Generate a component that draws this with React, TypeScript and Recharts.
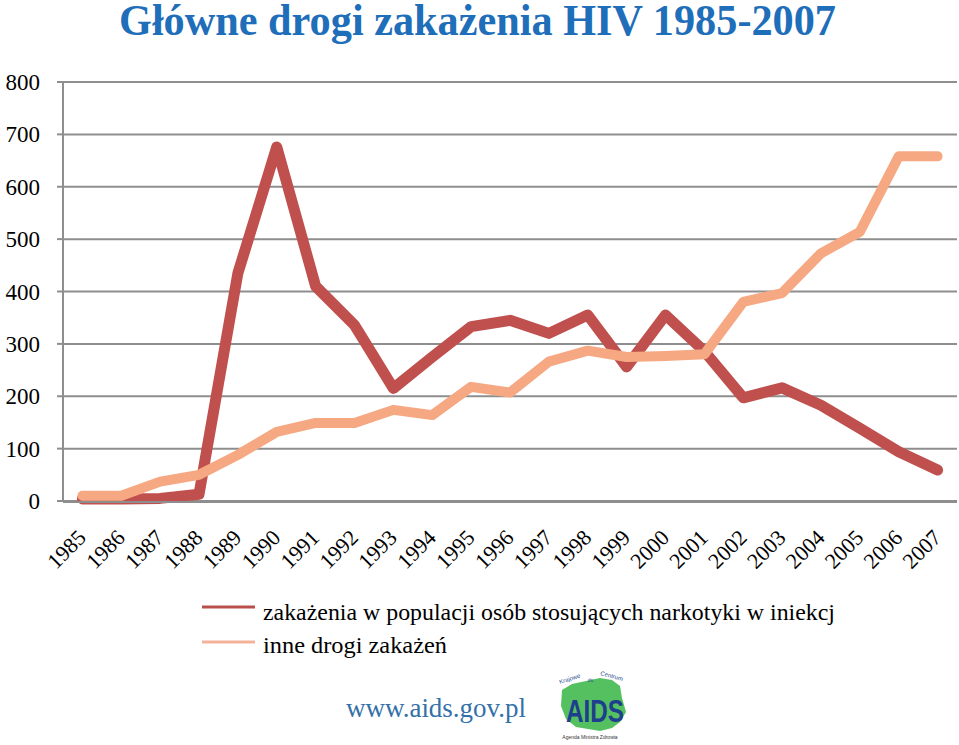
import React from 'react';
import { LineChart, Line, XAxis, YAxis, CartesianGrid, Legend } from 'recharts';

const years = ['1985', '1986', '1987', '1988', '1989', '1990', '1991', '1992', '1993', '1994', '1995', '1996', '1997', '1998', '1999', '2000', '2001', '2002', '2003', '2004', '2005', '2006', '2007'];
const narkotyki = [4, 4, 5, 13, 435, 676, 410, 336, 215, 275, 333, 345, 320, 355, 256, 355, 286, 197, 216, 183, 139, 94, 59];
const inne = [10, 10, 37, 50, 88, 132, 149, 149, 174, 164, 218, 207, 266, 287, 275, 277, 280, 380, 397, 473, 514, 658, 658];
const yTicks = [0, 100, 200, 300, 400, 500, 600, 700, 800];
const seriesNames = ['zakażenia w populacji osób stosujących narkotyki w iniekcj', 'inne drogi zakażeń'];
const title = 'Główne drogi zakażenia HIV 1985-2007';
const website = 'www.aids.gov.pl';

const data = years.map((year, i) => ({ year, narkotyki: narkotyki[i], inne: inne[i], idx: i }));
const boundaryTicks = years.map((_, i) => i).concat([years.length]);

const GRID = '#8E8E8E';
const RED = '#C0504D';
const ORANGE = '#F5A882';
const SERIF = "'Liberation Serif', 'Times New Roman', serif";
const serifStyle = { fontFamily: SERIF };

const XTick = (props: any) => {
  const { x, y, payload } = props;
  const ax = x + 5;
  const ay = y + 38;
  return (
    <text x={ax} y={ay} transform={`rotate(-45, ${ax}, ${ay})`} textAnchor="end" style={{ ...serifStyle, fontSize: 22 }} fill="#000">
      {payload.value}
    </text>
  );
};

const YTick = (props: any) => {
  const { x, y, payload } = props;
  return (
    <text x={x} y={y + 8} textAnchor="end" style={{ ...serifStyle, fontSize: 23 }} fill="#000">
      {payload.value}
    </text>
  );
};

const legendColors = ['#B8504C', '#F2B39A'];
const legendWidths = [572, 184];

const renderLegend = () => (
  <svg width={700} height={70} style={{ display: 'block' }}>
    {seriesNames.map((name, i) => (
      <g key={i}>
        <line x1={7} x2={60} y1={12 + i * 35} y2={12 + i * 35} stroke={legendColors[i]} strokeWidth={3} />
        <text x={68} y={25 + i * 33} style={{ ...serifStyle, fontSize: 24 }} fill="#000" textLength={legendWidths[i]} lengthAdjust="spacingAndGlyphs">
          {name}
        </text>
      </g>
    ))}
  </svg>
);

export default function App() {
  return (
    <div style={{ position: 'absolute', left: 0, top: 0, width: 959, height: 745, background: '#fff', fontFamily: SERIF }}>
      <svg width={959} height={60} style={{ position: 'absolute', left: 0, top: 0 }}>
        <text x={119} y={35} style={{ ...serifStyle, fontSize: 44, fontWeight: 'bold' }} fill="#1E6EB9" textLength={717} lengthAdjust="spacingAndGlyphs">
          {title}
        </text>
      </svg>
      <div style={{ position: 'absolute', left: 0, top: 0 }}>
        <LineChart width={959} height={745} data={data} margin={{ top: 82, right: 2, bottom: 242, left: 0 }}>
          <CartesianGrid horizontal vertical={false} stroke={GRID} strokeWidth={2} />
          <XAxis xAxisId="ticks" type="number" dataKey="idx" domain={[0, years.length]} ticks={boundaryTicks} tick={false} height={1} axisLine={{ stroke: GRID, strokeWidth: 2 }} tickLine={{ stroke: GRID, strokeWidth: 2 }} tickSize={5} allowDataOverflow />
          <XAxis dataKey="year" height={1} padding={{ left: 19.4, right: 19.4 }} axisLine={false} tickLine={false} tickSize={0} tickMargin={0} interval={0} tick={<XTick />} />
          <YAxis width={63} domain={[0, 800]} ticks={yTicks} interval={0} axisLine={{ stroke: GRID, strokeWidth: 2 }} tickLine={{ stroke: GRID, strokeWidth: 2 }} tickSize={6} tickMargin={17} tick={<YTick />} />
          <Legend layout="vertical" align="center" verticalAlign="middle" content={renderLegend} wrapperStyle={{ left: 195, top: 595, width: 700, height: 70 }} />
          <Line type="linear" dataKey="narkotyki" name={seriesNames[0]} stroke={RED} strokeWidth={11} dot={false} strokeLinejoin="round" strokeLinecap="round" isAnimationActive={false} />
          <Line type="linear" dataKey="inne" name={seriesNames[1]} stroke={ORANGE} strokeWidth={10} dot={false} strokeLinejoin="round" strokeLinecap="round" isAnimationActive={false} />
        </LineChart>
      </div>
      <svg width={959} height={745} style={{ position: 'absolute', left: 0, top: 0, pointerEvents: 'none' }}>
        <text x={346} y={717} style={{ ...serifStyle, fontSize: 27 }} fill="#3470A8" textLength={180} lengthAdjust="spacingAndGlyphs">
          {website}
        </text>
        <g style={{ fontFamily: "'Liberation Sans', Arial, sans-serif" }}>
          <path d="M562,690 L572,684 L586,681 L600,678 L612,680 L620,686 L622,698 L626,712 L620,722 L612,728 L600,731 L588,729 L576,727 L566,719 L561,706 Z" fill="#55C060" />
          <text x={566} y={722} fontWeight="bold" fontSize={32} fill="#1E3E8E" textLength={58} lengthAdjust="spacingAndGlyphs">AIDS</text>
          <text x={560} y={684} fontSize={6} fill="#2A4F8E" transform="rotate(-18, 560, 684)">Krajowe</text>
          <text x={600} y={675} fontSize={6} fill="#2A4F8E" transform="rotate(15, 600, 675)">Centrum</text>
          <text x={591} y={682} fontSize={5} fill="#2A4F8E" textAnchor="middle">ds.</text>
          <text x={590} y={739} fontSize={5} fill="#333" textAnchor="middle">Agenda Ministra Zdrowia</text>
        </g>
      </svg>
    </div>
  );
}
